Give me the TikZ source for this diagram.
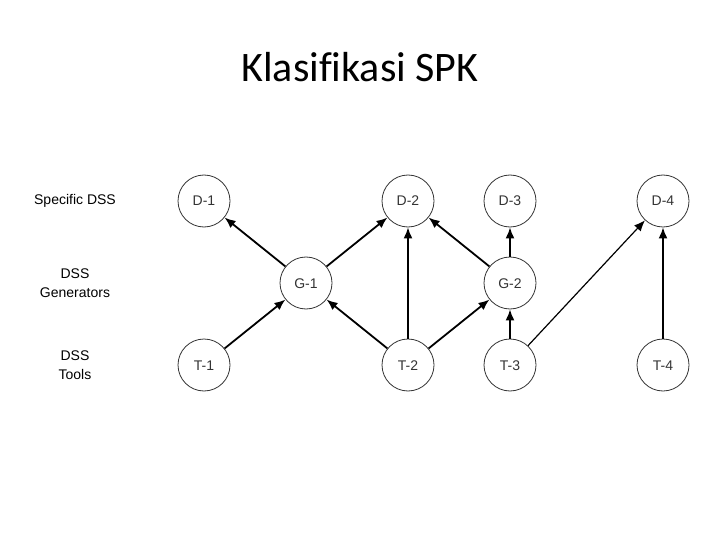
\documentclass[tikz,border=0pt]{standalone}
\usepackage{fontspec}
\setmainfont{Liberation Sans}
\newfontfamily\titlefont[Ligatures=NoCommon]{Carlito}
\usetikzlibrary{arrows.meta}
\begin{document}
\begin{tikzpicture}[x=1pt,y=-1pt,
  cnode/.style={circle,draw=black!80,line width=0.8pt,minimum size=52pt,inner sep=0pt,font=\fontsize{14}{16}\selectfont,text=black!80,text height=10pt,text depth=0pt},
  lab/.style={align=center,font=\fontsize{14}{19}\selectfont},
  arr/.style={line width=1.8pt,-{Latex[length=11pt,width=9pt]}},
  thinarr/.style={line width=1.2pt,-{Latex[length=11pt,width=9pt]}}]
\useasboundingbox (0,0) rectangle (720,540);
\node[font=\titlefont\fontsize{42}{46}\selectfont] (title) at (360,67) {Klasifikasi SPK};
\node[lab] (l1) at (75,201) {Specific DSS};
\node[lab] (l2) at (75,283) {DSS\\Generators};
\node[lab] (l3) at (75,365) {DSS\\Tools};
\node[cnode] (D1) at (204,201) {D-1};
\node[cnode] (D2) at (408,201) {D-2};
\node[cnode] (D3) at (510,201) {D-3};
\node[cnode] (D4) at (663,201) {D-4};
\node[cnode] (G1) at (306,283) {G-1};
\node[cnode] (G2) at (510,283) {G-2};
\node[cnode] (T1) at (204,365) {T-1};
\node[cnode] (T2) at (408,365) {T-2};
\node[cnode] (T3) at (510,365) {T-3};
\node[cnode] (T4) at (663,365) {T-4};
\draw[arr] (G1) -- (D1);
\draw[arr] (G1) -- (D2);
\draw[arr] (T1) -- (G1);
\draw[arr] (T2) -- (G1);
\draw[arr] (T2) -- (D2);
\draw[arr] (T2) -- (G2);
\draw[arr] (G2) -- (D2);
\draw[arr] (G2) -- (D3);
\draw[arr] (T3) -- (G2);
\draw[thinarr] (T3) -- (D4);
\draw[arr] (T4) -- (D4);
\end{tikzpicture}
\end{document}
